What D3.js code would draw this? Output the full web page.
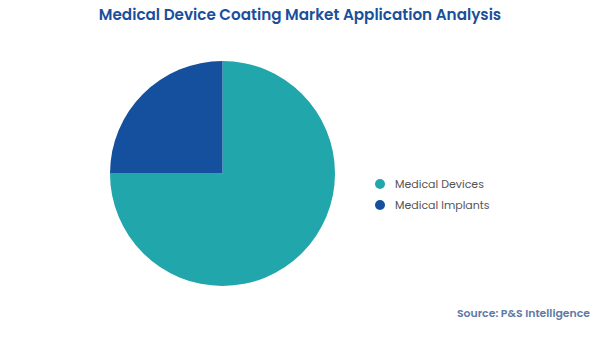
<!DOCTYPE html>
<html><head><meta charset="utf-8">
<script src="https://cdn.jsdelivr.net/npm/d3@7"></script>
<style>html,body{margin:0;padding:0;background:#fff;}</style>
</head><body>
<svg id="chart" width="600" height="337"></svg>
<script>
const categories = ["Medical Devices", "Medical Implants"];
const values = [75, 25];
const colors = ["#21a6ab", "#15509e"];
const title = "Medical Device Coating Market Application Analysis";
const source = "Source: P&S Intelligence";

const svg = d3.select("#chart");
const font = "Poppins, Inter, 'Open Sans', sans-serif";

svg.append("text").attr("x", 300).attr("y", 20).attr("text-anchor", "middle")
  .attr("font-family", font).attr("font-weight", 600).attr("font-size", 15.2)
  .attr("fill", "#1b4f9b").text(title);

const data = categories.map((c, i) => ({cat: c, value: values[i]}));
const pie = d3.pie().sort(null).value(d => d.value);
const arc = d3.arc().innerRadius(0).outerRadius(112.5);
const color = d3.scaleOrdinal().domain(categories).range(colors);

const g = svg.append("g").attr("transform", "translate(222.5,173.5)");
g.selectAll("path").data(pie(data)).join("path")
  .attr("d", arc).attr("fill", d => color(d.data.cat));

const ly = d3.scalePoint().domain(categories).range([184, 205]);
const leg = svg.append("g");
leg.selectAll("circle").data(categories).join("circle")
  .attr("cx", 380).attr("cy", d => ly(d)).attr("r", 5).attr("fill", d => color(d));
leg.selectAll("text").data(categories).join("text")
  .attr("x", 395).attr("y", d => ly(d)).attr("dy", "0.35em")
  .attr("font-family", font).attr("font-size", 11).attr("fill", "#555")
  .text(d => d);

svg.append("text").attr("x", 590).attr("y", 317).attr("text-anchor", "end")
  .attr("font-family", font).attr("font-weight", 600).attr("font-size", 10.9)
  .attr("fill", "#6079a6").text(source);
</script>
</body></html>
